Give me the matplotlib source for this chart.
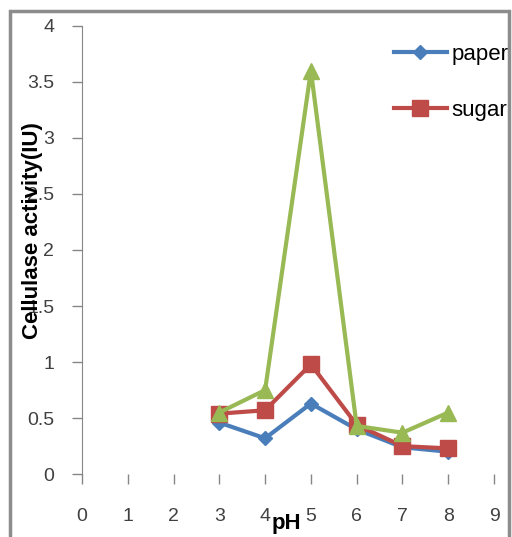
import matplotlib.pyplot as plt
from matplotlib.patches import Rectangle

ph = [3, 4, 5, 6, 7, 8]
paper = [0.46, 0.32, 0.63, 0.40, 0.24, 0.20]
sugar = [0.54, 0.57, 0.98, 0.44, 0.25, 0.23]
third = [0.55, 0.75, 3.60, 0.43, 0.37, 0.55]

x_ticks = list(range(0, 10))
y_ticks = [0, 0.5, 1, 1.5, 2, 2.5, 3, 3.5, 4]
y_tick_labels = ['0', '0.5', '1', '1.5', '2', '2.5', '3', '3.5', '4']

plt.rcParams['font.family'] = ['Liberation Sans', 'DejaVu Sans']

fig = plt.figure(figsize=(5.12, 5.37), dpi=100)
ax = fig.add_axes([0.160, 0.117, 0.805, 0.835])

# figure border
fig.patches.append(Rectangle((0.02, -0.01), 0.975, 0.99, transform=fig.transFigure,
                             fill=False, edgecolor='#8c8c8c', linewidth=2.5))

l1, = ax.plot(ph, paper, color='#4A7EBB', lw=3, marker='D', ms=7, label='paper')
l2, = ax.plot(ph, sugar, color='#BE4B48', lw=3, marker='s', ms=12, label='sugar')
l3, = ax.plot(ph, third, color='#98B954', lw=3, marker='^', ms=12)

ax.set_xlim(0, 9)
ax.set_ylim(0, 4)
ax.set_xticks(x_ticks)
ax.set_yticks(y_ticks)
ax.set_yticklabels(y_tick_labels)
ax.tick_params(axis='both', colors='#868686', labelcolor='#404040', labelsize=14,
               length=7, width=1)
ax.tick_params(axis='y', pad=13)
ax.tick_params(axis='x', pad=17)

for s in ['top', 'right', 'bottom']:
    ax.spines[s].set_visible(False)
ax.spines['left'].set_color('#868686')

fig.text(0.064, 0.57, 'Cellulase activity(IU)', rotation=90, fontsize=16,
         fontweight='bold', ha='center', va='center')
fig.text(0.56, 0.005, 'pH', fontsize=16, fontweight='bold', ha='center', va='bottom')

fig.legend(handles=[l1, l2], loc='upper left', bbox_to_anchor=(0.73, 0.955),
           frameon=False, fontsize=16, labelspacing=1.55, handlelength=2.4,
           handletextpad=0.2)

fig.savefig('out.png', dpi=100)
